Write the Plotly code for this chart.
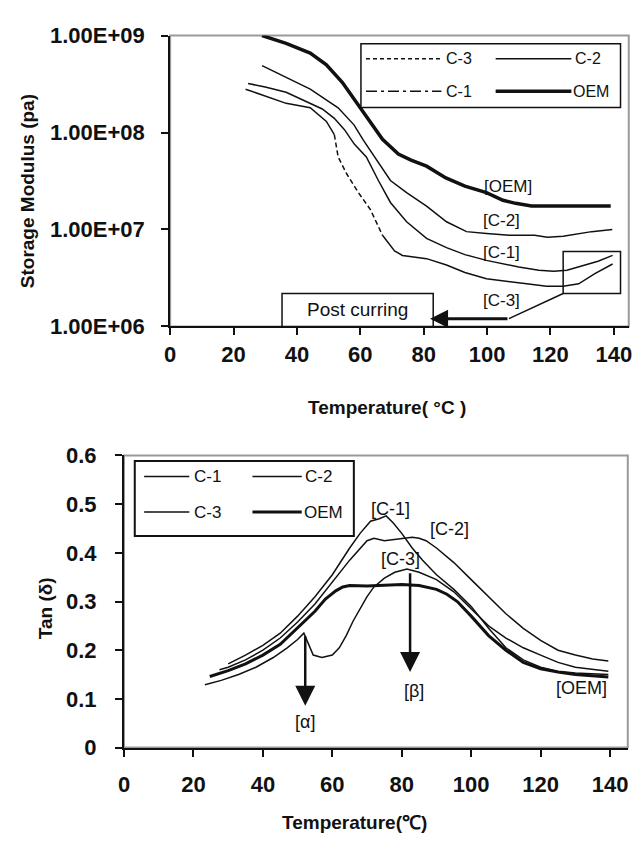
import math
import plotly.graph_objects as go

# ---------------- Storage modulus (Pa) vs temperature ----------------
sm_oem_t = [29, 36.6, 44.2, 49.3, 54.3, 59.4, 63.2, 67, 72, 76, 80.9, 87, 93, 99.8, 105, 109, 114, 120, 130, 139]
sm_oem = [1.0e9, 8.3e8, 6.6e8, 5.0e8, 3.3e8, 1.9e8, 1.3e8, 8.5e7, 6.0e7, 5.2e7, 4.5e7, 3.4e7, 2.8e7, 2.4e7,
          2.0e7, 1.86e7, 1.75e7, 1.75e7, 1.75e7, 1.75e7]

sm_c2_t = [29, 36.6, 44.2, 53, 58, 61, 64.4, 69.5, 74.6, 80.9, 87.2, 93.5, 99.8, 107, 115, 119, 124, 128, 133, 139.5]
sm_c2 = [4.9e8, 3.7e8, 2.8e8, 1.8e8, 1.2e8, 8.3e7, 5.6e7, 3.2e7, 2.4e7, 1.74e7, 1.2e7, 9.5e6, 9.1e6, 8.7e6,
         8.7e6, 8.3e6, 8.5e6, 8.9e6, 9.5e6, 1.0e7]

sm_c1_t = [24.6, 30, 36.6, 44.2, 48, 51.8, 55, 58.1, 61.9, 65.7, 69.5, 74.6, 80.9, 87.2, 93, 99.8, 105, 110,
           116.3, 121, 125.2, 131.4, 135, 139.6]
sm_c1 = [3.2e8, 2.95e8, 2.6e8, 2.0e8, 1.75e8, 1.4e8, 1.07e8, 7.6e7, 5.6e7, 3.2e7, 1.9e7, 1.2e7, 8.1e6, 6.5e6,
         5.5e6, 4.8e6, 4.4e6, 4.1e6, 3.8e6, 3.7e6, 3.8e6, 4.3e6, 4.7e6, 5.4e6]

sm_c3_t = [23.8, 30, 36.6, 44.2, 49.3, 51.8, 53, 55.6, 59.4, 63.2, 67, 70.8, 73.3, 80.9, 87.2, 93, 99.8, 106,
           112.5, 118.8, 124, 128.9, 134, 139.6]
sm_c3 = [2.8e8, 2.4e8, 2.0e8, 1.8e8, 1.3e8, 9.5e7, 5.6e7, 3.8e7, 2.4e7, 1.6e7, 8.7e6, 6.0e6, 5.4e6, 5.0e6,
         4.3e6, 3.6e6, 3.1e6, 2.9e6, 2.75e6, 2.6e6, 2.6e6, 2.75e6, 3.5e6, 4.4e6]

sm_ticks = [1e6, 1e7, 1e8, 1e9]
sm_ticktext = ["1.00E+06", "1.00E+07", "1.00E+08", "1.00E+09"]

# ---------------- Tan(delta) vs temperature ----------------
td_c1_t = [30, 35, 40, 45, 50, 55, 60, 65, 68, 71, 73.5, 75.5, 77.5, 80, 83, 86, 90, 95, 100, 105, 110, 115,
           120, 125, 130, 135, 139.5]
td_c1 = [0.172, 0.19, 0.21, 0.235, 0.27, 0.31, 0.355, 0.41, 0.44, 0.465, 0.47, 0.476, 0.462, 0.44, 0.41, 0.385,
         0.355, 0.325, 0.29, 0.245, 0.205, 0.18, 0.165, 0.157, 0.153, 0.151, 0.15]

td_c2_t = [27.5, 30, 35, 40, 45, 50, 55, 60, 65, 70, 72, 75, 78, 80, 83, 85, 87, 90, 95, 100, 105, 110, 115,
           120, 125, 130, 135, 139.5]
td_c2 = [0.16, 0.165, 0.18, 0.2, 0.225, 0.258, 0.295, 0.34, 0.385, 0.425, 0.43, 0.425, 0.428, 0.43, 0.432,
         0.43, 0.425, 0.41, 0.38, 0.345, 0.31, 0.275, 0.245, 0.22, 0.2, 0.19, 0.182, 0.178]

td_c3_t = [23.3, 28, 33, 38, 43, 47, 50, 51.8, 53, 54.5, 57, 60, 62, 64, 66, 68, 70, 72, 75, 78, 81.5, 85, 90,
           95, 100, 105, 110, 115, 120, 125, 130, 135, 139.5]
td_c3 = [0.129, 0.138, 0.15, 0.165, 0.185, 0.205, 0.222, 0.235, 0.215, 0.19, 0.185, 0.19, 0.205, 0.23, 0.26,
         0.285, 0.31, 0.33, 0.348, 0.36, 0.367, 0.36, 0.345, 0.32, 0.285, 0.25, 0.225, 0.205, 0.19, 0.175,
         0.165, 0.16, 0.157]

td_oem_t = [24.7, 30, 35, 40, 45, 50, 55, 58, 61, 63, 65, 70, 75, 80, 85, 90, 93, 96, 100, 105, 110, 115, 120,
            125, 130, 135, 139.5]
td_oem = [0.146, 0.158, 0.172, 0.19, 0.212, 0.245, 0.28, 0.305, 0.322, 0.33, 0.333, 0.332, 0.333, 0.335, 0.333,
          0.325, 0.315, 0.3, 0.27, 0.23, 0.2, 0.175, 0.162, 0.155, 0.15, 0.147, 0.145]

temp_ticks = [0, 20, 40, 60, 80, 100, 120, 140]
td_ticks = [0, 0.1, 0.2, 0.3, 0.4, 0.5, 0.6]

# ---------------- layout constants ----------------
W, H = 636, 845
TOP_XMAX = 144.7
BOT_XMAX = 145.1
TD_YMAX = 0.6
FONT = "Liberation Sans"
INK = "#111111"


def top_dom(t, v):
    """Temperature / modulus -> fractions of the top plot area."""
    return t / TOP_XMAX, (math.log10(v) - 6) / 3


def bot_dom(t, v):
    """Temperature / tan(delta) -> fractions of the bottom plot area."""
    return t / BOT_XMAX, v / TD_YMAX


fig = go.Figure()

thin = dict(color=INK, width=1.5)
thick = dict(color=INK, width=3.5)

# top panel curves
fig.add_trace(go.Scatter(x=sm_oem_t, y=sm_oem, mode="lines", line=thick, xaxis="x", yaxis="y"))
fig.add_trace(go.Scatter(x=sm_c2_t, y=sm_c2, mode="lines", line=thin, xaxis="x", yaxis="y"))
fig.add_trace(go.Scatter(x=sm_c1_t, y=sm_c1, mode="lines", line=thin, xaxis="x", yaxis="y"))
# C-3: the steep transition is drawn dashed
fig.add_trace(go.Scatter(x=sm_c3_t[:6], y=sm_c3[:6], mode="lines", line=thin, xaxis="x", yaxis="y"))
fig.add_trace(go.Scatter(x=sm_c3_t[5:11], y=sm_c3[5:11], mode="lines",
                         line=dict(color=INK, width=1.5, dash="5px,3px"), xaxis="x", yaxis="y"))
fig.add_trace(go.Scatter(x=sm_c3_t[10:], y=sm_c3[10:], mode="lines", line=thin, xaxis="x", yaxis="y"))

# bottom panel curves
fig.add_trace(go.Scatter(x=td_c2_t, y=td_c2, mode="lines", line=thin, xaxis="x2", yaxis="y2"))
fig.add_trace(go.Scatter(x=td_c1_t, y=td_c1, mode="lines", line=thin, xaxis="x2", yaxis="y2"))
fig.add_trace(go.Scatter(x=td_c3_t, y=td_c3, mode="lines", line=thin, xaxis="x2", yaxis="y2"))
fig.add_trace(go.Scatter(x=td_oem_t, y=td_oem, mode="lines", line=dict(color=INK, width=3), xaxis="x2", yaxis="y2"))

tickfont = dict(family=FONT, size=22, color=INK, weight="bold")
axis_common = dict(showline=True, linecolor=INK, linewidth=2, ticks="outside", tickcolor=INK,
                   tickwidth=2, ticklen=7, showgrid=False, zeroline=False, tickfont=tickfont)

fig.update_layout(
    width=W, height=H, margin=dict(l=0, r=0, t=0, b=0),
    paper_bgcolor="white", plot_bgcolor="white", showlegend=False,
    xaxis=dict(domain=[166.5 / W, 631.7 / W], range=[0, TOP_XMAX], tickvals=temp_ticks,
               anchor="y", ticklabelstandoff=0, **axis_common),
    yaxis=dict(domain=[1 - 324 / H, 1 - 24.3 / H], type="log", range=[6, 9], tickvals=sm_ticks,
               ticktext=sm_ticktext, anchor="x", ticklabelstandoff=12, **axis_common),
    xaxis2=dict(domain=[119.7 / W, 630.7 / W], range=[0, BOT_XMAX], tickvals=temp_ticks,
                anchor="y2", ticklabelstandoff=9, **axis_common),
    yaxis2=dict(domain=[1 - 758 / H, 1 - 457 / H], range=[0, TD_YMAX], tickvals=td_ticks,
                anchor="x2", ticklabelstandoff=14, **axis_common),
)

shapes = []
annotations = []

# grey plot-area frames
for xr, yr in (("x domain", "y domain"), ("x2 domain", "y2 domain")):
    shapes.append(dict(type="rect", xref=xr, yref=yr, x0=0, x1=1, y0=0, y1=1,
                       line=dict(color="#9a9a9a", width=2), layer="below"))


def top_text(t, v, text, size=17, xanchor="center"):
    x, y = top_dom(t, v)
    annotations.append(dict(xref="x domain", yref="y domain", x=x, y=y, text=text, showarrow=False,
                            xanchor=xanchor, yanchor="middle",
                            font=dict(family=FONT, size=size, color=INK)))


def bot_text(t, v, text, size=17, xanchor="center"):
    x, y = bot_dom(t, v)
    annotations.append(dict(xref="x2 domain", yref="y2 domain", x=x, y=y, text=text, showarrow=False,
                            xanchor=xanchor, yanchor="middle",
                            font=dict(family=FONT, size=size, color=INK)))


def top_line(t0, v0, t1, v1, width=1.5, dash="solid"):
    x0, y0 = top_dom(t0, v0)
    x1, y1 = top_dom(t1, v1)
    shapes.append(dict(type="line", xref="x domain", yref="y domain", x0=x0, y0=y0, x1=x1, y1=y1,
                       line=dict(color=INK, width=width, dash=dash)))


def bot_line(t0, v0, t1, v1, width=1.5):
    x0, y0 = bot_dom(t0, v0)
    x1, y1 = bot_dom(t1, v1)
    shapes.append(dict(type="line", xref="x2 domain", yref="y2 domain", x0=x0, y0=y0, x1=x1, y1=y1,
                       line=dict(color=INK, width=width)))


def top_rect(t0, v0, t1, v1, fill="rgba(0,0,0,0)"):
    x0, y0 = top_dom(t0, v0)
    x1, y1 = top_dom(t1, v1)
    shapes.append(dict(type="rect", xref="x domain", yref="y domain", x0=x0, y0=y0, x1=x1, y1=y1,
                       line=dict(color=INK, width=1.5), fillcolor=fill))


# ---- top legend (two columns) ----
top_rect(60.2, 10 ** 8.259, 142.1, 10 ** 8.916, fill="white")
r1, r2 = 10 ** 8.76, 10 ** 8.425
top_line(61.8, r1, 85.6, r1, dash="4px,3px")
top_text(86.4, r1, "C-3", size=16, xanchor="left")
top_line(102.7, r1, 126.6, r1)
top_text(127.2, r1, "C-2", size=16, xanchor="left")
top_line(61.8, r2, 85.6, r2, dash="11px,4px,3px,4px")
top_text(86.4, r2, "C-1", size=16, xanchor="left")
top_line(102.7, r2, 126.6, r2, width=3.5)
top_text(126.6, r2, "OEM", size=16, xanchor="left")

# ---- curve tags ----
top_text(106.6, 10 ** 7.44, "[OEM]")
top_text(104.7, 10 ** 7.09, "[C-2]")
top_text(104.7, 10 ** 6.758, "[C-1]")
top_text(104.7, 10 ** 6.263, "[C-3]")

# post-curing upturn: box around the tails, leader and arrow to the note
top_rect(124, 10 ** 6.34, 142.1, 10 ** 6.774)
top_line(106.9, 10 ** 6.08, 124, 10 ** 6.34)
top_rect(35.3, 1e6, 83.0, 10 ** 6.34, fill="white")
top_text(59.1, 10 ** 6.17, "Post curring", size=19)
tx, ty = top_dom(82.0, 10 ** 6.08)
sx, sy = top_dom(106.9, 10 ** 6.08)
annotations.append(dict(xref="x domain", yref="y domain", x=tx, y=ty, axref="x domain", ayref="y domain",
                        ax=sx, ay=sy, text="", showarrow=True, arrowhead=2, arrowsize=1.2,
                        arrowwidth=3, arrowcolor=INK))

# ---- bottom legend ----
bx0, by0 = bot_dom(3.1, 0.4346)
bx1, by1 = bot_dom(66.2, 0.5888)
shapes.append(dict(type="rect", xref="x2 domain", yref="y2 domain", x0=bx0, y0=by0, x1=bx1, y1=by1,
                   line=dict(color=INK, width=2), fillcolor="white"))
q1, q2 = 0.5567, 0.4837
bot_line(5.8, q1, 18.8, q1)
bot_text(19.6, q1, "C-1", xanchor="left")
bot_line(37.0, q1, 51.2, q1)
bot_text(51.6, q1, "C-2", xanchor="left")
bot_line(5.8, q2, 18.8, q2)
bot_text(19.6, q2, "C-3", xanchor="left")
bot_line(37.0, q2, 51.2, q2, width=3)
bot_text(51.2, q2, "OEM", xanchor="left")

bot_text(76.8, 0.491, "[C-1]", size=18)
bot_text(93.8, 0.448, "[C-2]", size=18)
bot_text(79.6, 0.388, "[C-3]", size=18)
bot_text(83.4, 0.116, "[β]", size=18)
bot_text(52.2, 0.052, "[α]", size=18)
bot_text(131.7, 0.122, "[OEM]", size=18)

# transition arrows
for t, v_top, v_tip in ((52.2, 0.232, 0.086), (82.4, 0.361, 0.155)):
    hx, hy = bot_dom(t, v_tip)
    sx, sy = bot_dom(t, v_top)
    annotations.append(dict(xref="x2 domain", yref="y2 domain", x=hx, y=hy, axref="x2 domain",
                            ayref="y2 domain", ax=sx, ay=sy, text="", showarrow=True, arrowhead=2,
                            arrowsize=1.6, arrowwidth=2.5, arrowcolor=INK))

# ---- axis titles ----
title_font = dict(family=FONT, size=19, color=INK, weight="bold")


def title(x_px, y_px, text, angle=0):
    annotations.append(dict(xref="paper", yref="paper", x=x_px / W, y=1 - y_px / H, text=text,
                            showarrow=False, xanchor="center", yanchor="middle", textangle=angle,
                            font=title_font))


title(386, 408, "Temperature( °C )")
title(353, 835, "Temperature(℃)")
title(22, 185, "Storage Modulus (pa)", -90)
title(40, 614, "Tan (δ)", -90)

fig.update_layout(shapes=shapes, annotations=annotations)
fig.write_html("out.html")
